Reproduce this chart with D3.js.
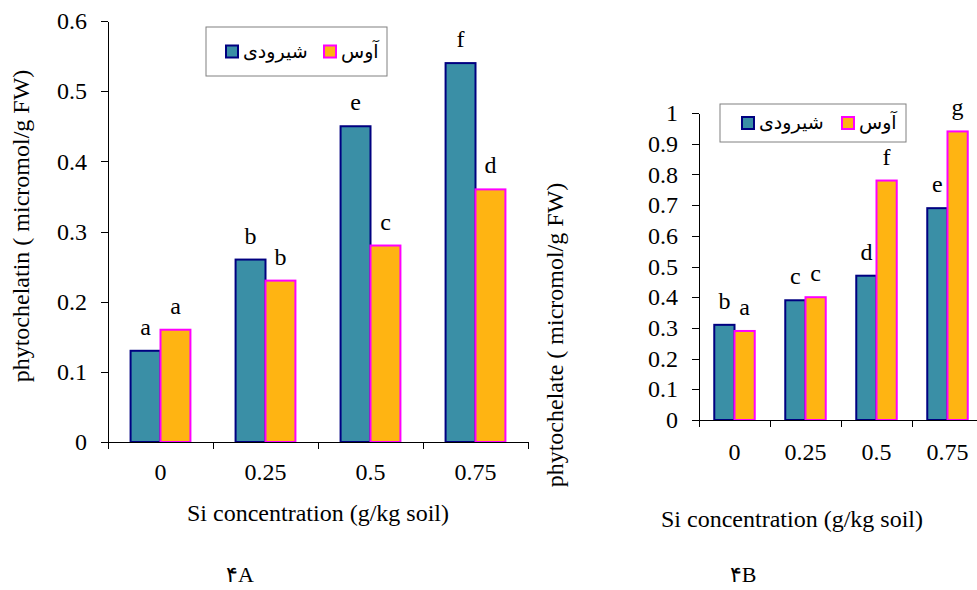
<!DOCTYPE html>
<html>
<head>
<meta charset="utf-8">
<script src="https://cdn.jsdelivr.net/npm/d3@7"></script>
<style>
  body { margin: 0; background: #fff; }
  svg { display: block; font-family: "Liberation Serif", "Times New Roman", serif; }
  .axis path, .axis line { stroke: #000; shape-rendering: crispEdges; }
  .axis text { font-family: "Liberation Serif", serif; font-size: 24px; fill: #000; }
  .legendText { font-family: "DejaVu Sans", "Noto Sans", sans-serif; font-size: 19px; }
</style>
</head>
<body>
<script>
(function () {

    //data
    var categories = ["0", "0.25", "0.5", "0.75"];
    var seriesNames = ["شیرودی", "آوس"];

    var valuesA_shirudi = [0.13, 0.26, 0.45, 0.54];
    var valuesA_aus = [0.16, 0.23, 0.28, 0.36];
    var lettersA_shirudi = ["a", "b", "e", "f"];
    var lettersA_aus = ["a", "b", "c", "d"];
    var yTicksA = [0, 0.1, 0.2, 0.3, 0.4, 0.5, 0.6];

    var valuesB_shirudi = [0.31, 0.39, 0.47, 0.69];
    var valuesB_aus = [0.29, 0.40, 0.78, 0.94];
    var lettersB_shirudi = ["b", "c", "d", "e"];
    var lettersB_aus = ["a", "c", "f", "g"];
    var yTicksB = [0, 0.1, 0.2, 0.3, 0.4, 0.5, 0.6, 0.7, 0.8, 0.9, 1];

    var fills = ["#3a8fa6", "#ffb412"];
    var strokes = ["#000080", "#ff00ff"];

    var svg = d3.select("body")
        .append("svg")
        .attr("width", 977)
        .attr("height", 590);

    svg.append("rect").attr("width", 977).attr("height", 590).attr("fill", "#fff");

    drawPanel({
        left: 108, right: 528, top: 21, bottom: 442,
        yMax: 0.6, yTicks: yTicksA,
        values: [valuesA_shirudi, valuesA_aus],
        letters: [lettersA_shirudi, lettersA_aus],
        yTitle: "phytochelatin  ( micromol/g FW)", yTitleX: 29, yTitleY: 226,
        xTitleX: 318, xTitleY: 521, xLabelPad: 21,
        caption: "۴A", captionX: 240,
        legend: {x: 206, y: 27, w: 181, h: 49, items: [20, 118]}
    });

    drawPanel({
        left: 699, right: 983, top: 113, bottom: 420,
        yMax: 1, yTicks: yTicksB,
        values: [valuesB_shirudi, valuesB_aus],
        letters: [lettersB_shirudi, lettersB_aus],
        yTitle: "phytochelate ( micromol/g FW)", yTitleX: 563, yTitleY: 335,
        xTitleX: 792, xTitleY: 527, xLabelPad: 23,
        caption: "۴B", captionX: 743,
        legend: {x: 720, y: 104, w: 186, h: 38, items: [22, 122]}
    });

    function drawPanel(cfg) {
        var g = svg.append("g");

        //category scale and bar scale inside each category
        var x0 = d3.scaleBand()
            .domain(categories)
            .range([cfg.left, cfg.right])
            .padding(0);

        var step = x0.bandwidth();
        var x1 = d3.scaleBand()
            .domain([0, 1])
            .range([step * 0.215, step * 0.785])
            .padding(0);

        var y = d3.scaleLinear()
            .domain([0, cfg.yMax])
            .range([cfg.bottom, cfg.top]);

        //bars
        [0, 1].forEach(function (s) {
            g.selectAll(".bar" + s)
                .data(cfg.values[s])
                .enter()
                .append("rect")
                .attr("x", function (d, i) { return x0(categories[i]) + x1(s); })
                .attr("y", function (d) { return y(d); })
                .attr("width", x1.bandwidth())
                .attr("height", function (d) { return y(0) - y(d); })
                .attr("fill", fills[s])
                .attr("stroke", strokes[s])
                .attr("stroke-width", 2);

            g.selectAll(".letter" + s)
                .data(cfg.letters[s])
                .enter()
                .append("text")
                .attr("x", function (d, i) { return x0(categories[i]) + x1(s) + x1.bandwidth() / 2; })
                .attr("y", function (d, i) { return y(cfg.values[s][i]) - 16; })
                .attr("text-anchor", "middle")
                .style("font-size", "24px")
                .text(function (d) { return d; });
        });

        //y axis
        g.append("g")
            .attr("class", "axis")
            .attr("transform", "translate(" + cfg.left + ",0)")
            .call(d3.axisLeft(y)
                .tickValues(cfg.yTicks)
                .tickSize(7)
                .tickSizeOuter(0)
                .tickPadding(14)
                .tickFormat(d3.format("")));

        //x axis with labels in the middle of categories
        var xAxis = g.append("g")
            .attr("class", "axis")
            .attr("transform", "translate(0," + cfg.bottom + ")")
            .call(d3.axisBottom(x0)
                .tickSize(0)
                .tickSizeOuter(0)
                .tickPadding(cfg.xLabelPad));

        //separator ticks between categories
        var sep = categories.map(function (c) { return x0(c); }).concat([cfg.right]);
        xAxis.selectAll(".sep")
            .data(sep)
            .enter()
            .append("line")
            .attr("class", "sep")
            .attr("x1", function (d) { return d; })
            .attr("x2", function (d) { return d; })
            .attr("y1", 0)
            .attr("y2", 7);

        //axis titles
        g.append("text")
            .attr("transform", "translate(" + cfg.yTitleX + "," + cfg.yTitleY + ") rotate(-90)")
            .attr("text-anchor", "middle")
            .style("font-size", "24px")
            .text(cfg.yTitle);

        g.append("text")
            .attr("x", cfg.xTitleX)
            .attr("y", cfg.xTitleY)
            .attr("text-anchor", "middle")
            .style("font-size", "24px")
            .text("Si concentration (g/kg soil)");

        g.append("text")
            .attr("x", cfg.captionX)
            .attr("y", 582)
            .attr("text-anchor", "middle")
            .style("font-size", "22px")
            .text(cfg.caption);

        //legend
        var L = cfg.legend;
        var leg = g.append("g").attr("transform", "translate(" + L.x + "," + L.y + ")");
        leg.append("rect")
            .attr("width", L.w)
            .attr("height", L.h)
            .attr("fill", "#fff")
            .attr("stroke", "#808080")
            .attr("stroke-width", 1);

        [0, 1].forEach(function (s) {
            leg.append("rect")
                .attr("x", L.items[s])
                .attr("y", L.h / 2 - 6)
                .attr("width", 12)
                .attr("height", 12)
                .attr("fill", fills[s])
                .attr("stroke", strokes[s])
                .attr("stroke-width", 2);
            leg.append("text")
                .attr("class", "legendText")
                .attr("x", L.items[s] + 17)
                .attr("y", L.h / 2 + 6)
                .attr("text-anchor", "start")
                .text(seriesNames[s]);
        });
    }

})();
</script>
</body>
</html>
